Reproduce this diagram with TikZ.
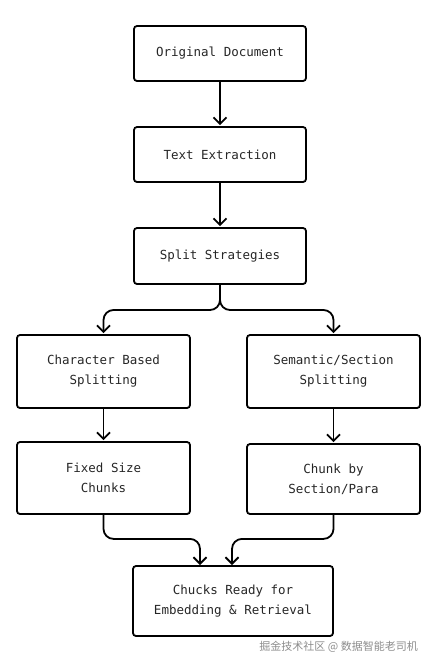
\documentclass[tikz,border=0pt]{standalone}
\usepackage{fontspec}
\usepackage{tikz}
\usetikzlibrary{arrows.meta}
\newfontfamily\boxfont{DejaVu Sans Mono}
\newfontfamily\cjkfont{Noto Sans CJK SC}

\begin{document}
\begin{tikzpicture}[x=1pt,y=-1pt,
    stepbox/.style={draw, line width=1.8pt, rounded corners=3pt, align=center,
      font=\boxfont\fontsize{12.5}{20}\selectfont, text=black!85, inner sep=0pt},
    flow/.style={line width=1.8pt, shorten >=1pt,
      -{Straight Barb[length=6.5pt,width=13pt,line width=1.8pt]}}]
  \useasboundingbox (0,0) rectangle (432,657);

  \begin{scope}[every node/.style={stepbox}]
    \node (orig) [minimum width=172pt, minimum height=55pt] at (220,53.5) {Original Document};
    \node (text) [minimum width=172pt, minimum height=55pt] at (220,154.5) {Text Extraction};
    \node (split) [minimum width=172pt, minimum height=56pt] at (220,256) {Split Strategies};
    \node (char) [minimum width=173pt, minimum height=73pt] at (103.5,371.5) {Character Based\\Splitting};
    \node (sem) [minimum width=173pt, minimum height=73pt] at (333.5,371.5) {Semantic/Section\\Splitting};
    \node (fixed) [minimum width=173pt, minimum height=72pt] at (103.5,478) {Fixed Size\\Chunks};
    \node (para) [minimum width=173pt, minimum height=70pt] at (333.5,479) {Chunk by\\Section/Para};
    \node (ready) [minimum width=200pt, minimum height=70pt] at (233,601) {Chucks Ready for\\Embedding \& Retrieval};
  \end{scope}

  \coordinate (fork) at (220,310);
  \coordinate (inL) at (200,566);
  \coordinate (inR) at (232,566);

  \draw [flow] (orig) -- (text);
  \draw [flow] (text) -- (split);
  \draw [flow, rounded corners=10pt] (split.south) -- (fork) -| (char.north);
  \draw [flow, rounded corners=10pt] (split.south) -- (fork) -| (sem.north);
  \draw [flow] (char) -- (fixed);
  \draw [flow] (sem) -- (para);
  \draw [flow, rounded corners=10pt] (fixed.south) -- ++(0,24) -| (inL);
  \draw [flow, rounded corners=10pt] (para.south) -- ++(0,24) -| (inR);

  \node (mark) [font=\cjkfont\fontsize{11}{13}\selectfont, text=black!45, anchor=east, inner sep=0pt]
    at (418,647) {掘金技术社区 @ 数据智能老司机};
\end{tikzpicture}
\end{document}
